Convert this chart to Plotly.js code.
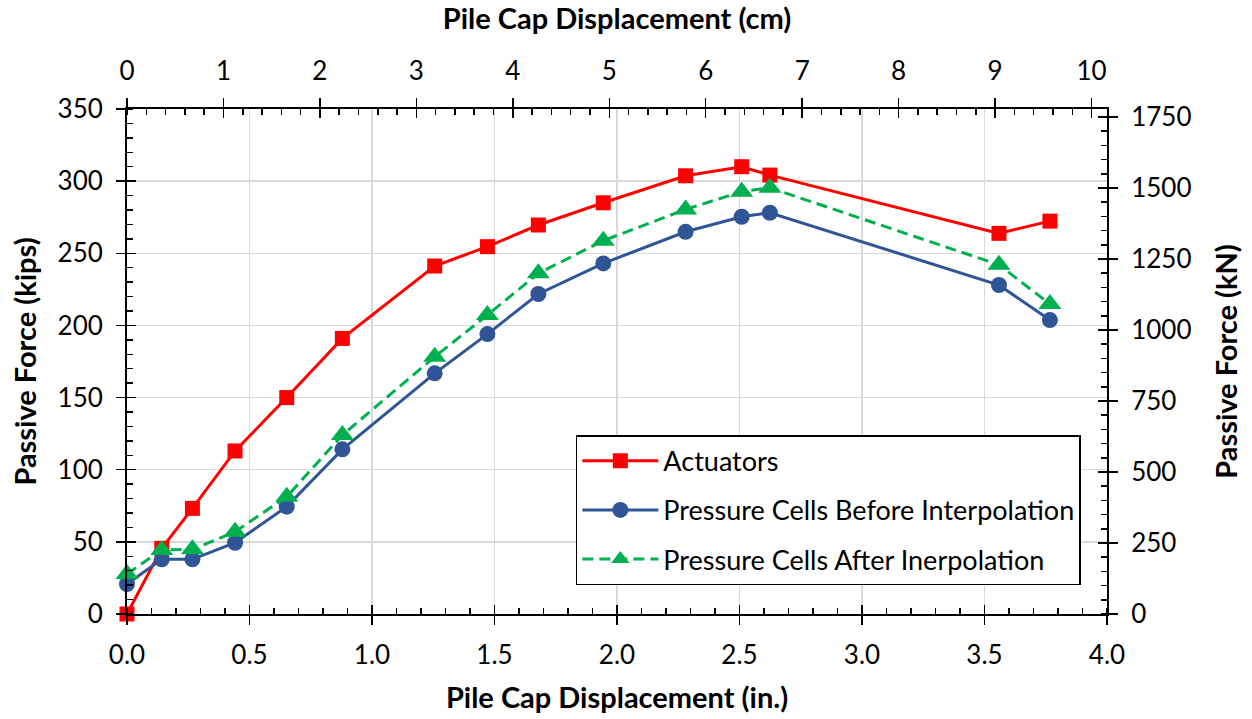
<!DOCTYPE html>
<html>
<head>
<meta charset="utf-8">
<script src="https://cdn.plot.ly/plotly-3.0.1.min.js"></script>
<style>html,body{margin:0;padding:0;background:#fff;}#chart{width:1252px;height:719px;}</style>
</head>
<body>
<div id="chart"></div>
<script>
// Displacement (in.)
const dispIn = [0, 0.142, 0.267, 0.441, 0.652, 0.879, 1.256, 1.471, 1.679, 1.944, 2.280, 2.509, 2.624, 3.559, 3.767];
// Passive force (kips)
const actuators = [0, 45.5, 73.2, 113, 150, 191, 241.2, 254.6, 269.6, 285, 303.7, 310, 304.2, 263.8, 272.3];
const cellsBefore = [20.8, 37.9, 37.9, 49.4, 74.4, 114.1, 166.8, 194, 221.8, 243, 264.9, 275.3, 278.1, 228, 203.7];
const cellsAfter = [27.7, 44.4, 44.8, 57, 81.3, 124, 178.3, 207.2, 236.1, 258.7, 280.4, 292.7, 295.4, 242, 214.8];
const seriesNames = ["Actuators", "Pressure Cells Before Interpolation", "Pressure Cells After Inerpolation"];
const IN_TO_CM = 2.54, KIP_TO_KN = 4.448;

const FONT = "Lato, 'Open Sans', sans-serif";
const traces = [
  {x: dispIn, y: actuators, name: seriesNames[0], legendgroup: "a", mode: "lines+markers", cliponaxis: false,
   line: {color: "#ff0000", width: 3}, marker: {symbol: "square", size: 15, color: "#ff0000"}},
  {x: dispIn, y: cellsBefore, name: seriesNames[1], legendgroup: "b", mode: "lines+markers", cliponaxis: false,
   line: {color: "#2f5597", width: 3}, marker: {symbol: "circle", size: 16, color: "#2f5597"}},
  {x: dispIn, y: cellsAfter, name: seriesNames[2], legendgroup: "c", mode: "lines+markers", cliponaxis: false,
   line: {color: "#00b050", width: 3, dash: "11px,6px"}, marker: {symbol: "triangle-up", size: 20, color: "#00b050"}}
];
// secondary-unit axes: same data in cm / kN, drawn with no visible marks so the extra axes exist
const unitAxes = [["x2", "y2"], ["x3", "y3"], ["x4", "y4"]];
unitAxes.forEach(function (ax) {
  traces.push({x: dispIn.map(v => v * IN_TO_CM), y: actuators.map(v => v * KIP_TO_KN), xaxis: ax[0], yaxis: ax[1],
    mode: "none", showlegend: false, hoverinfo: "skip"});
});

const tickFont = {family: FONT, size: 26, color: "#000"};
const titleFont = {family: FONT, size: 29, color: "#000", weight: "bold"};
function minorIn(d){ return {dtick: d, ticks: "inside", ticklen: 6, tickwidth: 1.5, tickcolor: "#000", showgrid: false}; }
function innerMajor(base){ return Object.assign({ticks: "inside", ticklen: 9, tickwidth: 1.5, tickcolor: "#000",
  showticklabels: false, showgrid: false, showline: false, zeroline: false}, base); }

const layout = {
  width: 1252, height: 719,
  margin: {l: 127, r: 145, t: 109, b: 105},
  paper_bgcolor: "#fff", plot_bgcolor: "#fff",
  font: {family: FONT, color: "#000"},
  showlegend: true,
  legend: {x: 0.458, y: 0.354, xanchor: "left", yanchor: "top", bgcolor: "#fff", bordercolor: "#000", borderwidth: 1.5,
    font: {family: FONT, size: 27, color: "#000"}, itemwidth: 76, tracegroupgap: 11},
  xaxis: {range: [0, 4], dtick: 0.5, tick0: 0, tickformat: ".1f", ticks: "outside", ticklen: 9, tickwidth: 1.5, tickcolor: "#000",
    showline: true, linecolor: "#000", linewidth: 2, showgrid: true, gridcolor: "#d9d9d9", gridwidth: 1.5, zeroline: false,
    minor: minorIn(0.1), tickfont: tickFont, ticklabelstandoff: 8,
    title: {text: "Pile Cap Displacement (in.)", font: titleFont, standoff: 18}},
  xaxis2: {overlaying: "x", side: "top", anchor: "y", range: [0, 10.16], dtick: 1, tick0: 0, ticks: "outside", ticklen: 9, tickwidth: 1.5,
    tickcolor: "#000", showline: true, linecolor: "#000", linewidth: 2, showgrid: false, zeroline: false,
    minor: minorIn(0.2), tickfont: tickFont, ticklabelstandoff: 8,
    title: {text: "Pile Cap Displacement (cm)", font: titleFont, standoff: 15}},
  yaxis: {range: [0, 350], dtick: 50, tick0: 0, ticks: "outside", ticklen: 9, tickwidth: 1.5, tickcolor: "#000",
    showline: true, linecolor: "#000", linewidth: 2, showgrid: true, gridcolor: "#d9d9d9", gridwidth: 1.5, zeroline: false,
    minor: minorIn(10), tickfont: tickFont, ticklabelstandoff: 8,
    title: {text: "Passive Force (kips)", font: titleFont, standoff: 12}},
  yaxis2: {overlaying: "y", side: "right", anchor: "x", range: [0, 1778], dtick: 250, tick0: 0, ticks: "outside", ticklen: 9, tickwidth: 1.5,
    tickcolor: "#000", showline: true, linecolor: "#000", linewidth: 2, showgrid: false, zeroline: false,
    minor: minorIn(50), tickfont: tickFont, ticklabelstandoff: 8,
    title: {text: "Passive Force (kN)", font: titleFont, standoff: 26}},
  xaxis3: innerMajor({overlaying: "x", side: "bottom", anchor: "y", range: [0, 4], dtick: 0.5, tick0: 0}),
  xaxis4: innerMajor({overlaying: "x", side: "top", anchor: "y", range: [0, 10.16], dtick: 1, tick0: 0}),
  yaxis3: innerMajor({overlaying: "y", side: "left", anchor: "x", range: [0, 350], dtick: 50, tick0: 0}),
  yaxis4: innerMajor({overlaying: "y", side: "right", anchor: "x", range: [0, 1778], dtick: 250, tick0: 0})
};

Plotly.newPlot("chart", traces, layout, {displayModeBar: false, staticPlot: true});
</script>
</body>
</html>
